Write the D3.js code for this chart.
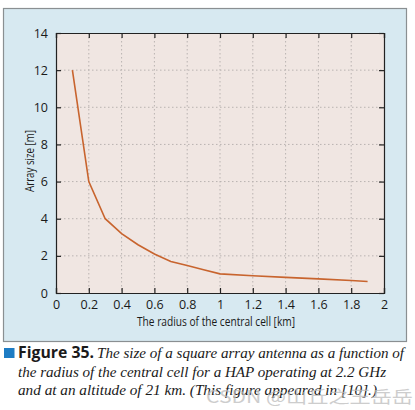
<!DOCTYPE html>
<html><head><meta charset="utf-8">
<script src="https://cdn.jsdelivr.net/npm/d3@7/dist/d3.min.js"></script>
<style>body{margin:0;background:#fff;} svg{display:block;}</style>
</head><body>
<script>
const radius = [0.1,0.2,0.3,0.4,0.5,0.6,0.7,0.8,0.9,1.0,1.2,1.4,1.6,1.8,1.9];
const arraySize = [12,6,4,3.2,2.6,2.1,1.7,1.48,1.25,1.03,0.93,0.84,0.76,0.67,0.62];
const xTicks = [0,0.2,0.4,0.6,0.8,1,1.2,1.4,1.6,1.8,2];
const yTicks = [0,2,4,6,8,10,12,14];
const xLabel = "The radius of the central cell [km]";
const yLabel = "Array size [m]";
const captionBold = "Figure 35.";
const captionLines = ["The size of a square array antenna as a function of","the radius of the central cell for a HAP operating at 2.2 GHz","and at an altitude of 21 km. (This figure appeared in [10].)"];
const watermark = "CSDN @山丘之王岳岳";

const W=415,H=410;
const svg=d3.select("body").append("svg").attr("width",W).attr("height",H);
svg.append("rect").attr("x",3.5).attr("y",8.5).attr("width",403).attr("height",333)
  .attr("fill","#d7e9f1").attr("stroke","#8a8f92").attr("stroke-width",1.2);
const L=56,R=384,T=33,B=293;
const x=d3.scaleLinear().domain([0,2]).range([L,R]);
const y=d3.scaleLinear().domain([0,14]).range([B,T]);
svg.append("rect").attr("x",L).attr("y",T).attr("width",R-L).attr("height",B-T).attr("fill","#f0e6e2");
const g=svg.append("g");
g.selectAll(".gx").data(xTicks.slice(1,-1)).join("line").attr("x1",d=>x(d)).attr("x2",d=>x(d)).attr("y1",T).attr("y2",B)
  .attr("stroke","#b9b3b1").attr("stroke-dasharray","1.5,2.5");
g.selectAll(".gy").data(yTicks.slice(1,-1)).join("line").attr("y1",d=>y(d)).attr("y2",d=>y(d)).attr("x1",L).attr("x2",R)
  .attr("stroke","#b9b3b1").attr("stroke-dasharray","1.5,2.5");
const font="'Open Sans', 'Liberation Sans', sans-serif";
const ax=svg.append("g").attr("transform",`translate(0,${B})`).call(d3.axisBottom(x).tickValues(xTicks).tickSize(-5).tickPadding(7).tickFormat(d=>d));
const ay=svg.append("g").attr("transform",`translate(${L},0)`).call(d3.axisLeft(y).tickValues(yTicks).tickSize(-5).tickPadding(8));
const at=svg.append("g").attr("transform",`translate(0,${T})`).call(d3.axisTop(x).tickValues(xTicks).tickSize(-5).tickFormat(""));
const ar=svg.append("g").attr("transform",`translate(${R},0)`).call(d3.axisRight(y).tickValues(yTicks).tickSize(-5).tickFormat(""));
[ax,ay,at,ar].forEach(a=>{a.select(".domain").attr("stroke","#222").attr("stroke-width",1.2);
  a.selectAll(".tick line").attr("stroke","#222").attr("stroke-width",1.2);
  a.selectAll("text").attr("font-family",font).attr("font-size",12.5).attr("fill","#1a1a1a");});
svg.append("path").datum(radius.map((r,i)=>[r,arraySize[i]]))
  .attr("d",d3.line().x(d=>x(d[0])).y(d=>y(d[1]))).attr("fill","none").attr("stroke","#c8642e").attr("stroke-width",1.6);
svg.append("text").attr("x",137).attr("y",326).attr("font-family",font).attr("font-size",12.5).attr("fill","#1a1a1a")
  .attr("textLength",158).attr("lengthAdjust","spacingAndGlyphs").text(xLabel);
svg.append("text").attr("transform",`translate(34,192) rotate(-90)`).attr("font-family",font).attr("font-size",12.5).attr("fill","#1a1a1a")
  .attr("textLength",62).attr("lengthAdjust","spacingAndGlyphs").text(yLabel);
// caption
svg.append("rect").attr("x",4).attr("y",348).attr("width",10.5).attr("height",10).attr("fill","#1d7cc4");
svg.append("text").attr("x",18).attr("y",358).attr("font-family",font).attr("font-weight","bold").attr("font-size",15.5).attr("fill","#1a1a1a")
  .attr("textLength",76).attr("lengthAdjust","spacingAndGlyphs").text(captionBold);
const serif="'Liberation Serif', 'DejaVu Serif', serif";
const capX=[97,18,18], capEnd=[404,386,377], capY=[358,376.5,395];
captionLines.forEach((t,i)=>{
  svg.append("text").attr("x",capX[i]).attr("y",capY[i]).attr("font-family",serif).attr("font-style","italic").attr("font-size",15.5).attr("fill","#1a1a1a")
    .attr("textLength",capEnd[i]-capX[i]).attr("lengthAdjust","spacingAndGlyphs").text(t);
});
svg.append("text").attr("x",206).attr("y",403).attr("font-family","'Noto Sans CJK SC', sans-serif").attr("font-size",17).attr("fill","#bdbdbd").attr("opacity",0.75)
  .attr("textLength",207).attr("lengthAdjust","spacingAndGlyphs").text(watermark);
</script>
</body></html>
